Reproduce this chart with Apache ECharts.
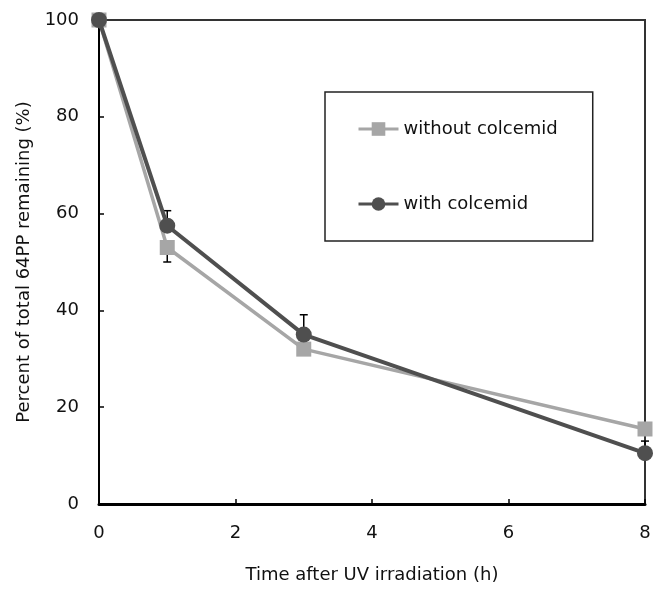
<!DOCTYPE html>
<html><head><meta charset="utf-8">
<script src="https://cdn.jsdelivr.net/npm/echarts@6/dist/echarts.min.js"></script>
<style>html,body{margin:0;padding:0;background:#fff}#c{width:654px;height:592px}</style>
</head><body><div id="c"></div>
<script>
// Data
const hours = [0, 1, 3, 8];
const withoutColcemid = [100, 53, 32, 15.5];
const withColcemid = [100, 57.5, 35, 10.5];
// error bars as drawn: "without" shows minus bars, "with" shows plus bars
const withoutErrMinus = [0, 3.0, 0, 0];
const withErrPlus = [0, 3.1, 4.1, 2.5];
const seriesNames = ['without colcemid', 'with colcemid'];
const xTitle = 'Time after UV irradiation (h)';
const yTitle = 'Percent of total 64PP remaining (%)';

const LIGHT = '#a6a6a6';
const DARK = '#4f4f4f';
const FONT = 'DejaVu Sans';

function errRender(params, api) {
  const x = api.value(0), y = api.value(1), e = api.value(2);
  if (!e) return null;
  const base = api.coord([x, y]);
  const end = api.coord([x, y + e]);
  const w = 4;
  const st = { stroke: '#000', lineWidth: 1.5 };
  return {
    type: 'group',
    children: [
      { type: 'line', shape: { x1: base[0], y1: base[1], x2: end[0], y2: end[1] }, style: st },
      { type: 'line', shape: { x1: end[0] - w, y1: end[1], x2: end[0] + w, y2: end[1] }, style: st }
    ]
  };
}

const chart = echarts.init(document.getElementById('c'), null, { renderer: 'canvas' });
chart.setOption({
  backgroundColor: '#fff',
  animation: false,
  grid: { left: 99, right: 9, top: 20, bottom: 88, show: true, borderColor: '#333', borderWidth: 2, backgroundColor: 'transparent' },
  legend: {
    data: seriesNames,
    orient: 'vertical',
    left: 325, top: 92,
    padding: [27, 35, 27, 32],
    itemGap: 55,
    itemWidth: 40, itemHeight: 17,
    borderColor: '#222', borderWidth: 1.5,
    lineStyle: { width: 3 },
    textStyle: { fontFamily: FONT, fontSize: 18, color: '#111', lineHeight: 20 }
  },
  xAxis: {
    type: 'value', min: 0, max: 8, interval: 2,
    name: xTitle, nameLocation: 'middle', nameGap: 62,
    nameTextStyle: { fontFamily: FONT, fontSize: 18, color: '#111' },
    axisLine: { lineStyle: { color: '#000', width: 3 } },
    axisTick: { inside: true, length: 5, lineStyle: { color: '#000', width: 1.5 } },
    axisLabel: { fontFamily: FONT, fontSize: 18, color: '#111', margin: 20 },
    splitLine: { show: false }
  },
  yAxis: {
    type: 'value', min: 0, max: 100, interval: 20,
    name: yTitle, nameLocation: 'middle', nameGap: 66,
    nameTextStyle: { fontFamily: FONT, fontSize: 18, color: '#111' },
    axisLine: { lineStyle: { color: '#000', width: 2 } },
    axisTick: { inside: true, length: 5, lineStyle: { color: '#000', width: 1.5 } },
    axisLabel: { fontFamily: FONT, fontSize: 18, color: '#111', margin: 20 },
    splitLine: { show: false }
  },
  series: [
    {
      name: 'errWithout', type: 'custom', renderItem: errRender, clip: false, z: 1,
      data: hours.map((h, i) => [h, withoutColcemid[i], -withoutErrMinus[i]])
    },
    {
      name: 'errWith', type: 'custom', renderItem: errRender, clip: false, z: 1,
      data: hours.map((h, i) => [h, withColcemid[i], withErrPlus[i]])
    },
    {
      name: seriesNames[0], type: 'line', z: 2, clip: false,
      data: hours.map((h, i) => [h, withoutColcemid[i]]),
      symbol: 'rect', symbolSize: 15,
      lineStyle: { color: LIGHT, width: 3.5 },
      itemStyle: { color: LIGHT },
      emphasis: { disabled: true }
    },
    {
      name: seriesNames[1], type: 'line', z: 3, clip: false,
      data: hours.map((h, i) => [h, withColcemid[i]]),
      symbol: 'circle', symbolSize: 16,
      lineStyle: { color: DARK, width: 4 },
      itemStyle: { color: DARK },
      emphasis: { disabled: true }
    }
  ]
});
</script>
</body></html>
